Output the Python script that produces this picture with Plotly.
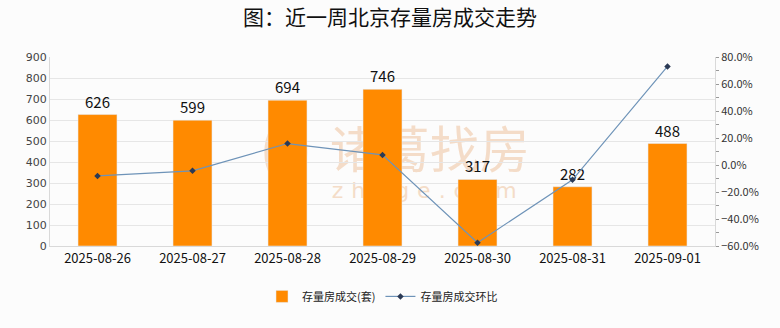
import base64
import plotly.graph_objects as go

# Weekly Beijing second-hand housing transactions
dates = ["2025-08-26", "2025-08-27", "2025-08-28", "2025-08-29",
         "2025-08-30", "2025-08-31", "2025-09-01"]
deals = [626, 599, 694, 746, 317, 282, 488]
mom_pct = [-8.1, -4.3, 15.9, 7.5, -57.5, -11.0, 73.0]

FONT = "Noto Sans CJK SC"

# faint brand watermark placed behind the bars
wm_svg = """<svg xmlns='http://www.w3.org/2000/svg' width='280' height='90' viewBox='0 0 280 90'>
<ellipse cx='26' cy='40' rx='18' ry='30' fill='none' stroke='#f4dcc8' stroke-width='7'/>
<text x='70' y='56' font-family='Noto Sans CJK SC' font-size='50' fill='#f4dcc8'>诸葛找房</text>
<text x='72' y='86' font-family='DejaVu Sans' font-size='22' fill='#f4dcc8' letter-spacing='8'>zhuge.com</text>
</svg>"""
wm_uri = "data:image/svg+xml;base64," + base64.b64encode(wm_svg.encode("utf-8")).decode()

fig = go.Figure()

fig.add_trace(go.Bar(
    x=dates, y=deals, name="存量房成交(套)",
    marker=dict(color="#FF8A00"),
    width=0.41,
    text=[str(v) for v in deals], textposition="outside",
    textfont=dict(family=FONT, size=15, color="#111111"),
    cliponaxis=False,
))

fig.add_trace(go.Scatter(
    x=dates, y=mom_pct, name="存量房成交环比", yaxis="y2",
    mode="lines+markers",
    line=dict(color="#6E93B8", width=1.2),
    marker=dict(symbol="diamond", size=5, color="#2B3A55"),
))

fig.update_layout(
    width=780, height=328,
    paper_bgcolor="#FCFCFC", plot_bgcolor="#FCFCFC",
    margin=dict(l=50, r=65, t=57, b=82),
    title=dict(text="图：近一周北京存量房成交走势", x=0.5, xanchor="center",
               y=0.945, yanchor="middle",
               font=dict(family=FONT, size=21, color="#111111")),
    font=dict(family=FONT, size=12, color="#333333"),
    showlegend=True,
    legend=dict(orientation="h", x=0.5, xanchor="center", y=-0.19, yanchor="top",
                font=dict(family=FONT, size=11, color="#222222"),
                bgcolor="rgba(0,0,0,0)", itemwidth=30),
    xaxis=dict(type="category", showline=True, linecolor="#D9D9D9", linewidth=1,
               ticks="", tickfont=dict(family=FONT, size=13, color="#111111"),
               showgrid=False),
    yaxis=dict(range=[0, 900], dtick=100, showline=True, linecolor="#D9D9D9",
               gridcolor="#E6E6E6", gridwidth=1, zeroline=False,
               ticks="", tickfont=dict(family="DejaVu Sans", size=11, color="#444444")),
    yaxis2=dict(overlaying="y", side="right", range=[-60, 80], dtick=20,
                tickformat=".1f", ticksuffix="%",
                showgrid=False, zeroline=False,
                showline=True, linecolor="#D9D9D9",
                ticks="outside", ticklen=3, tickcolor="#999999",
                minor=dict(ticks="outside", ticklen=3, dtick=10, tickcolor="#999999"),
                tickfont=dict(family=FONT, size=11, color="#333333")),
    images=[dict(source=wm_uri, xref="paper", yref="paper",
                 x=0.526, y=0.47, sizex=0.431, sizey=0.476,
                 xanchor="center", yanchor="middle", layer="below",
                 sizing="contain", opacity=1)],
)

fig.write_html("out.html")
